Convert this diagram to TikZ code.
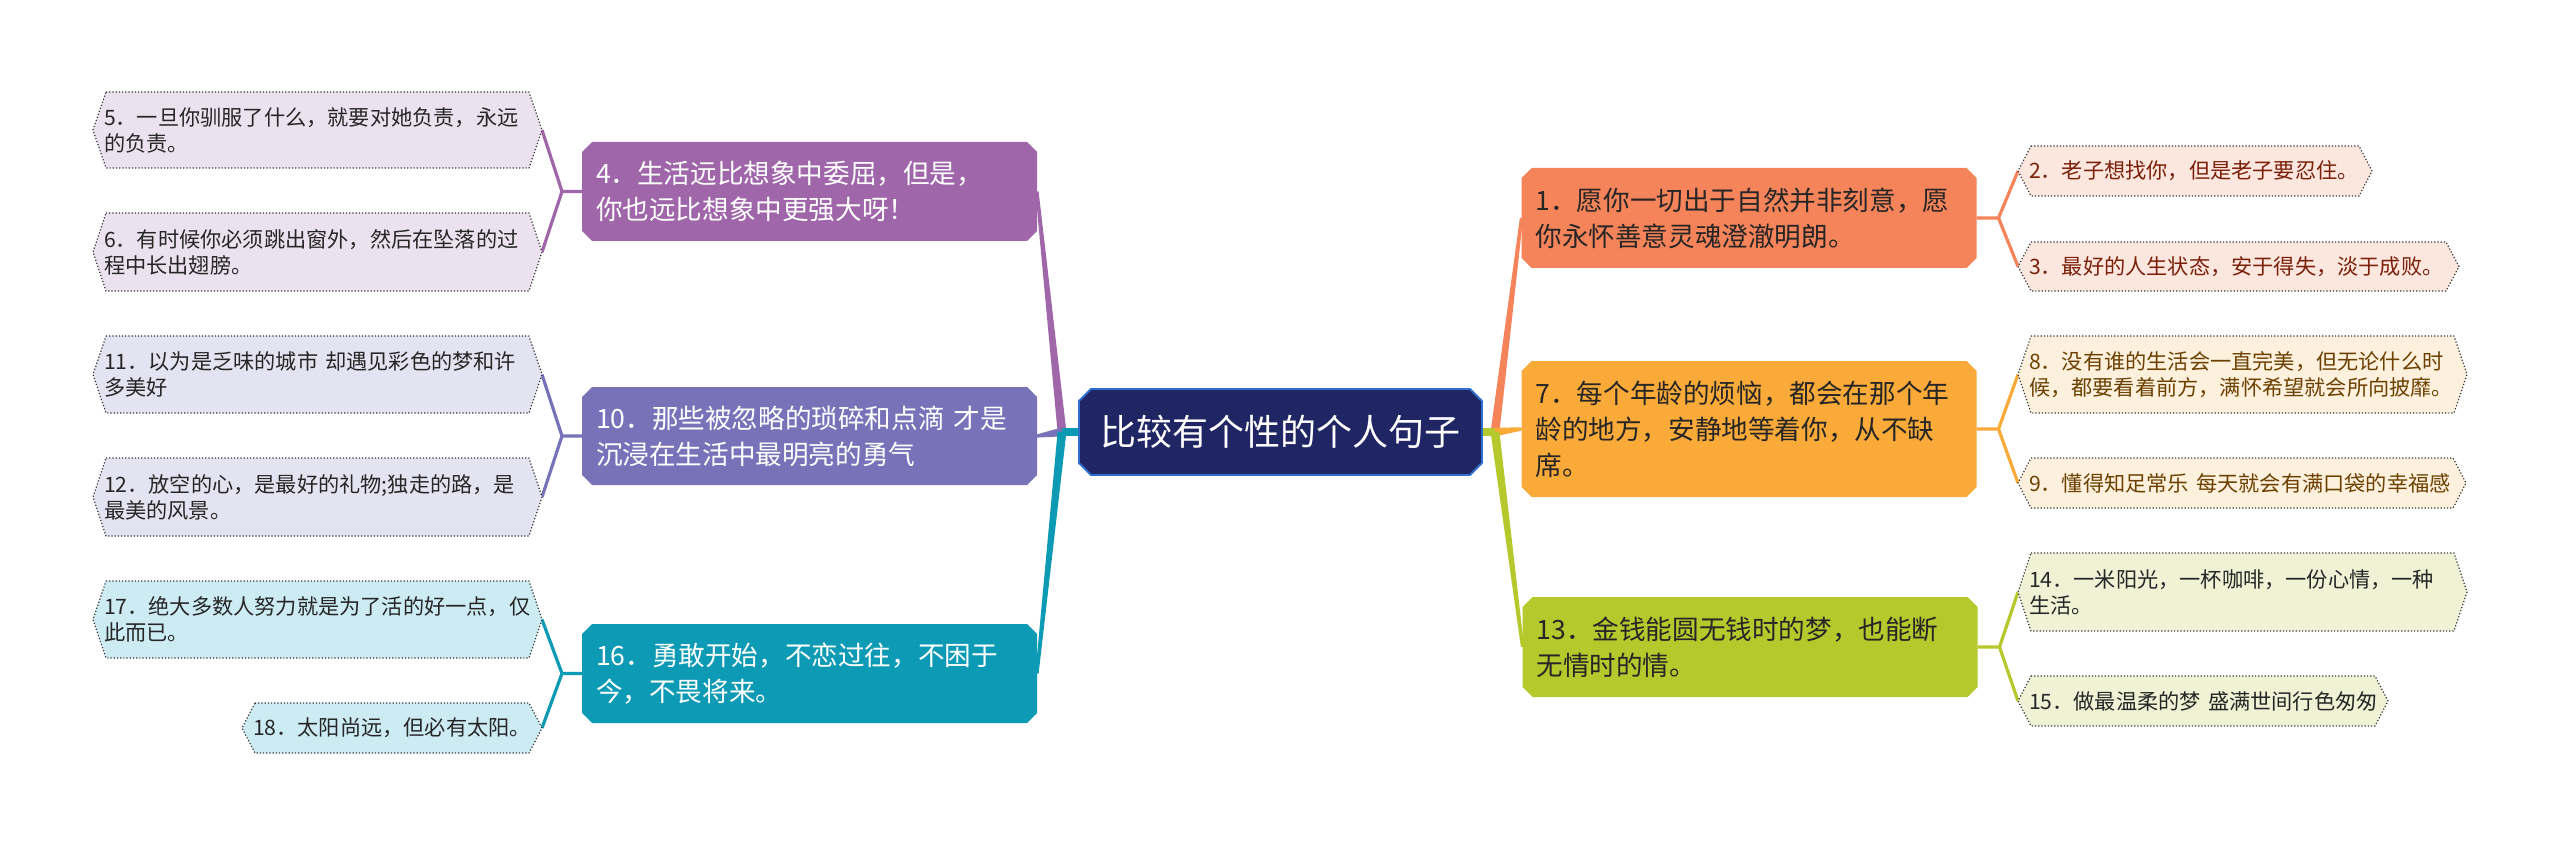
\documentclass[tikz,border=0pt]{standalone}
\usepackage{fontspec}
\setmainfont{Noto Sans CJK SC}
\usetikzlibrary{calc}
\pgfdeclarelayer{bg}
\pgfsetlayers{bg,main}
\definecolor{rootfill}{HTML}{202664}
\definecolor{rootline}{HTML}{2F6FD0}
\definecolor{cOne}{HTML}{F6845A}
\definecolor{cSeven}{HTML}{FAAA38}
\definecolor{cThirteen}{HTML}{B5C82C}
\definecolor{cFour}{HTML}{A066AA}
\definecolor{cTen}{HTML}{7873B9}
\definecolor{cSixteen}{HTML}{0D9AB5}
\definecolor{lOne}{HTML}{FCE7DF}
\definecolor{lSeven}{HTML}{FDF1DE}
\definecolor{lThirteen}{HTML}{F0F2D6}
\definecolor{lFour}{HTML}{ECE1EE}
\definecolor{lTen}{HTML}{E4E3F1}
\definecolor{lSixteen}{HTML}{CDEBF3}
\definecolor{tRed}{HTML}{7A1F0A}
\definecolor{tBrown}{HTML}{6B4000}
\definecolor{tDark}{HTML}{262626}
\newcommand{\chamf}[3]{%
  \fill[#3] ([xshift=#2]#1.north west) -- ([xshift=-#2]#1.north east) -- ([yshift=-#2]#1.north east) -- ([yshift=#2]#1.south east) -- ([xshift=-#2]#1.south east) -- ([xshift=#2]#1.south west) -- ([yshift=#2]#1.south west) -- ([yshift=-#2]#1.north west) -- cycle;}
\newcommand{\hexa}[2]{%
  \filldraw[fill=#2, leafline] ([xshift=6.5pt]#1.north west) -- ([xshift=-6.5pt]#1.north east) -- (#1.east) -- ([xshift=-6.5pt]#1.south east) -- ([xshift=6.5pt]#1.south west) -- (#1.west) -- cycle;}
\newcommand{\taper}[3]{%
  \fill[#3] ($(#1)!2.2pt!90:(#2)$) -- ($(#2)!0.8pt!-90:(#1)$) -- ($(#2)!0.8pt!90:(#1)$) -- ($(#1)!2.2pt!-90:(#2)$) -- cycle;}
\begin{document}
\begin{tikzpicture}[x=0.5pt,y=-0.5pt,
  every node/.style={outer sep=0pt},
  br/.style={rectangle, inner xsep=7pt, inner ysep=0pt, align=left,
    font=\fontsize{13.3pt}{18pt}\selectfont, text width=213.5pt},
  lf/.style={rectangle, inner xsep=5.5pt, inner ysep=0pt, align=left,
    font=\fontsize{10.6pt}{13pt}\selectfont},
  leafline/.style={draw=black!80, line width=0.6pt, densely dotted},
  leafconn/.style={line width=1.6pt},
]
\useasboundingbox (0,0) rectangle (2560,845);

% root
\node[rectangle, minimum width=201.5pt, minimum height=43pt, inner sep=0pt,
  text=white, font=\fontsize{18pt}{22pt}\selectfont] (root) at (1280.5,432) {比较有个性的个人句子};

% branch nodes
\node[br, text=tDark, minimum height=50pt] (n1) at (1749,218) {1．愿你一切出于自然并非刻意，愿\\你永怀善意灵魂澄澈明朗。};
\node[br, text=tDark, minimum height=68pt] (n7) at (1749,429) {7．每个年龄的烦恼，都会在那个年\\龄的地方，安静地等着你，从不缺\\席。};
\node[br, text=tDark, minimum height=50pt] (n13) at (1750,647) {13．金钱能圆无钱时的梦，也能断\\无情时的情。};
\node[br, text=white, minimum height=49.5pt] (n4) at (809.5,191.5) {4．生活远比想象中委屈，但是，\\你也远比想象中更强大呀！};
\node[br, text=white, minimum height=49pt] (n10) at (809.5,436) {10．那些被忽略的琐碎和点滴~才是\\沉浸在生活中最明亮的勇气};
\node[br, text=white, minimum height=49.5pt] (n16) at (809.5,673.5) {16．勇敢开始，不恋过往，不困于\\今，不畏将来。};

% leaves left
\node[lf, text=tDark, text width=213.5pt, minimum height=38pt] (n5) at (317.5,130) {5．一旦你驯服了什么，就要对她负责，永远\\的负责。};
\node[lf, text=tDark, text width=213.5pt, minimum height=39pt] (n6) at (317.5,252) {6．有时候你必须跳出窗外，然后在坠落的过\\程中长出翅膀。};
\node[lf, text=tDark, text width=213.5pt, minimum height=38.5pt] (n11) at (317.5,374.5) {11．以为是乏味的城市~却遇见彩色的梦和许\\多美好};
\node[lf, text=tDark, text width=213.5pt, minimum height=39pt] (n12) at (317.5,497) {12．放空的心，是最好的礼物;独走的路，是\\最美的风景。};
\node[lf, text=tDark, text width=213.5pt, minimum height=38.5pt] (n17) at (317.5,619.5) {17．绝大多数人努力就是为了活的好一点，仅\\此而已。};
\node[lf, text=tDark, text width=139pt, minimum height=25pt] (n18) at (392,728) {18．太阳尚远，但必有太阳。};

% leaves right
\node[lf, text=tRed, text width=166pt, minimum height=25pt] (n2) at (2195,171) {2．老子想找你，但是老子要忍住。};
\node[lf, text=tRed, text width=209.5pt, minimum height=24.5pt] (n3) at (2238.5,266.5) {3．最好的人生状态，安于得失，淡于成败。};
\node[lf, text=tBrown, text width=213.5pt, minimum height=38.5pt] (n8) at (2242.5,374.5) {8．没有谁的生活会一直完美，但无论什么时\\候，都要看着前方，满怀希望就会所向披靡。};
\node[lf, text=tBrown, text width=213pt, minimum height=25pt] (n9) at (2242,483) {9．懂得知足常乐~每天就会有满口袋的幸福感};
\node[lf, text=tDark, text width=213.5pt, minimum height=39pt] (n14) at (2242.5,592) {14．一米阳光，一杯咖啡，一份心情，一种\\生活。};
\node[lf, text=tDark, text width=174pt, minimum height=25pt] (n15) at (2203,701) {15．做最温柔的梦~盛满世间行色匆匆};

\begin{pgfonlayer}{bg}
  \fill[white] (0,0) rectangle (2560,845);
  % root connectors
  \coordinate (JR) at (1495,432);
  \coordinate (JL) at (1062,432);
  \taper{JR}{n1.west}{cOne}
  \taper{JR}{n7.west}{cSeven}
  \taper{JR}{n13.west}{cThirteen}
  \taper{JL}{n4.east}{cFour}
  \taper{JL}{n10.east}{cTen}
  \taper{JL}{n16.east}{cSixteen}
  \draw[line width=4pt, cThirteen] (root.east) -- (JR);
  \draw[line width=4pt, cSixteen] (root.west) -- (JL);
  % leaf connectors
  \draw[leafconn, cOne] (n1.east) -- ++(22,0) coordinate (f1) -- (n2.west);
  \draw[leafconn, cOne] (f1) -- (n3.west);
  \draw[leafconn, cSeven] (n7.east) -- ++(22,0) coordinate (f7) -- (n8.west);
  \draw[leafconn, cSeven] (f7) -- (n9.west);
  \draw[leafconn, cThirteen] (n13.east) -- ++(22,0) coordinate (f13) -- (n14.west);
  \draw[leafconn, cThirteen] (f13) -- (n15.west);
  \draw[leafconn, cFour] (n4.west) -- ++(-20,0) coordinate (f4) -- (n5.east);
  \draw[leafconn, cFour] (f4) -- (n6.east);
  \draw[leafconn, cTen] (n10.west) -- ++(-20,0) coordinate (f10) -- (n11.east);
  \draw[leafconn, cTen] (f10) -- (n12.east);
  \draw[leafconn, cSixteen] (n16.west) -- ++(-20,0) coordinate (f16) -- (n17.east);
  \draw[leafconn, cSixteen] (f16) -- (n18.east);
  % shapes
  \chamf{root}{6pt}{rootfill}
  \draw[rootline, line width=0.9pt] ([xshift=6pt]root.north west) -- ([xshift=-6pt]root.north east) -- ([yshift=-6pt]root.north east) -- ([yshift=6pt]root.south east) -- ([xshift=-6pt]root.south east) -- ([xshift=6pt]root.south west) -- ([yshift=6pt]root.south west) -- ([yshift=-6pt]root.north west) -- cycle;
  \chamf{n1}{5pt}{cOne}
  \chamf{n7}{5pt}{cSeven}
  \chamf{n13}{5pt}{cThirteen}
  \chamf{n4}{5pt}{cFour}
  \chamf{n10}{5pt}{cTen}
  \chamf{n16}{5pt}{cSixteen}
  \hexa{n2}{lOne}
  \hexa{n3}{lOne}
  \hexa{n8}{lSeven}
  \hexa{n9}{lSeven}
  \hexa{n14}{lThirteen}
  \hexa{n15}{lThirteen}
  \hexa{n5}{lFour}
  \hexa{n6}{lFour}
  \hexa{n11}{lTen}
  \hexa{n12}{lTen}
  \hexa{n17}{lSixteen}
  \hexa{n18}{lSixteen}
\end{pgfonlayer}
\end{tikzpicture}
\end{document}
